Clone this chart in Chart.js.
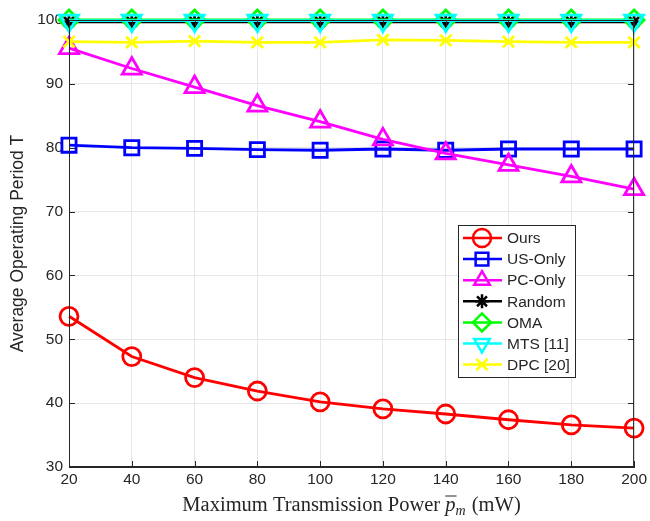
<!DOCTYPE html>
<html>
<head>
<meta charset="utf-8">
<script src="https://cdn.jsdelivr.net/npm/chart.js@4.4.1/dist/chart.umd.min.js"></script>
<style>
  html, body { margin: 0; padding: 0; background: #fff; }
  #wrap { width: 650px; height: 521px; position: relative; }
</style>
</head>
<body>
<div id="wrap"><canvas id="chart"></canvas></div>
<script>
// x axis: maximum transmission power (mW)
const powers = [20, 40, 60, 80, 100, 120, 140, 160, 180, 200];

const ours    = [53.6, 47.3, 44.0, 41.9, 40.2, 39.1, 38.3, 37.4, 36.6, 36.1];
const usOnly  = [80.4, 80.0, 79.9, 79.7, 79.6, 79.8, 79.6, 79.8, 79.8, 79.8];
const pcOnly  = [95.6, 92.4, 89.5, 86.6, 84.1, 81.3, 79.1, 77.3, 75.5, 73.5];
const random  = [99.7, 99.7, 99.7, 99.7, 99.7, 99.7, 99.7, 99.7, 99.7, 99.7];
const oma     = [100.0, 100.0, 100.0, 100.0, 100.0, 100.0, 100.0, 100.0, 100.0, 100.0];
const mts     = [99.9, 99.9, 99.9, 99.9, 99.9, 99.9, 99.9, 99.9, 99.9, 99.9];
const dpc     = [96.6, 96.5, 96.7, 96.5, 96.5, 96.9, 96.8, 96.6, 96.5, 96.5];

const yTicks = [30, 40, 50, 60, 70, 80, 90, 100];

const series = [
  { label: "Ours",      data: ours,   color: "#ff0000", style: "circle",   radius: 9,  rot: 0 },
  { label: "US-Only",   data: usOnly, color: "#0000ff", style: "rect",     radius: 10, rot: 0 },
  { label: "PC-Only",   data: pcOnly, color: "#ff00ff", style: "triangle", radius: 11, rot: 0 },
  { label: "Random",    data: random, color: "#000000", style: "star",     radius: 7,  rot: 0 },
  { label: "OMA",       data: oma,    color: "#00ff00", style: "rectRot",  radius: 10, rot: 0 },
  { label: "MTS [11]",  data: mts,    color: "#00ffff", style: "triangle", radius: 11, rot: 180 },
  { label: "DPC [20]",  data: dpc,    color: "#ffff00", style: "crossRot", radius: 8,  rot: 0 }
];

const axisColor = "#262626";
const sansFont = "'Liberation Sans', Arial, sans-serif";
const serifFont = "'Liberation Serif', 'Times New Roman', serif";

// full box + inward ticks, like MATLAB axes
const boxPlugin = {
  id: "box",
  afterDraw(chart) {
    const ctx = chart.ctx;
    const a = chart.chartArea;
    const xs = chart.scales.x, ys = chart.scales.y;
    ctx.save();
    ctx.strokeStyle = axisColor;
    ctx.lineWidth = 1;
    ctx.strokeRect(a.left + 0.5, a.top + 0.5, a.right - a.left - 1, a.bottom - a.top - 1);
    ctx.beginPath();
    powers.forEach(p => {
      const x = Math.round(xs.getPixelForValue(p)) + 0.5;
      ctx.moveTo(x, a.bottom); ctx.lineTo(x, a.bottom - 6);
      ctx.moveTo(x, a.top); ctx.lineTo(x, a.top + 6);
    });
    yTicks.forEach(v => {
      const y = Math.round(ys.getPixelForValue(v)) + 0.5;
      ctx.moveTo(a.left, y); ctx.lineTo(a.left + 6, y);
      ctx.moveTo(a.right, y); ctx.lineTo(a.right - 6, y);
    });
    ctx.stroke();
    ctx.restore();
  }
};

// legend box inside the plot, drawn on top
const legendPlugin = {
  id: "insideLegend",
  afterDraw(chart) {
    const ctx = chart.ctx;
    const left = 458, top = 225, w = 117, h = 152;
    ctx.save();
    ctx.fillStyle = "#fff";
    ctx.fillRect(left, top, w, h);
    ctx.strokeStyle = axisColor;
    ctx.lineWidth = 1;
    ctx.strokeRect(left + 0.5, top + 0.5, w, h);
    ctx.textBaseline = "middle";
    series.forEach((s, i) => {
      const y = top + 13 + i * 21.1;
      ctx.strokeStyle = s.color;
      ctx.lineWidth = 2.5;
      ctx.beginPath();
      ctx.moveTo(463, y); ctx.lineTo(502, y);
      ctx.stroke();
      ctx.fillStyle = "rgba(0,0,0,0)";
      Chart.helpers.drawPoint(ctx, {
        pointStyle: s.style, radius: Math.min(s.radius, 9), rotation: s.rot, borderWidth: 2.5
      }, 482, y);
      ctx.fillStyle = axisColor;
      ctx.font = "15.5px " + sansFont;
      ctx.fillText(s.label, 507, y + 1);
    });
    ctx.restore();
  }
};

// x title with overlined italic p and subscript m
const xTitlePlugin = {
  id: "xTitle",
  afterDraw(chart) {
    const ctx = chart.ctx;
    ctx.save();
    ctx.fillStyle = axisColor;
    ctx.textBaseline = "alphabetic";
    const base = 511;
    const big = 20.5, small = 14;
    const part1 = "Maximum Transmission Power ";
    const part3 = " (mW)";
    ctx.font = big + "px " + serifFont;
    const w1 = ctx.measureText(part1).width;
    const w3 = ctx.measureText(part3).width;
    ctx.font = "italic " + big + "px " + serifFont;
    const wp = ctx.measureText("p").width;
    ctx.font = "italic " + small + "px " + serifFont;
    const wm = ctx.measureText("m").width;
    const total = w1 + wp + wm + 1 + w3;
    let x = (chart.chartArea.left + chart.chartArea.right) / 2 - total / 2;
    ctx.font = big + "px " + serifFont;
    ctx.fillText(part1, x, base);
    x += w1;
    ctx.font = "italic " + big + "px " + serifFont;
    ctx.fillText("p", x, base);
    ctx.strokeStyle = axisColor;
    ctx.lineWidth = 1;
    ctx.beginPath();
    ctx.moveTo(x, base - 15); ctx.lineTo(x + wp + 1, base - 15);
    ctx.stroke();
    x += wp;
    ctx.font = "italic " + small + "px " + serifFont;
    ctx.fillText("m", x, base + 3.5);
    x += wm + 1;
    ctx.font = big + "px " + serifFont;
    ctx.fillText(part3, x, base);
    ctx.restore();
  }
};

const datasets = series.map((s, i) => ({
  label: s.label,
  data: s.data,
  borderColor: s.color,
  backgroundColor: "transparent",
  borderWidth: 2.8,
  pointStyle: s.style,
  pointRadius: s.radius,
  pointRotation: s.rot,
  pointBorderWidth: 2.8,
  pointBorderColor: s.color,
  pointBackgroundColor: "transparent",
  tension: 0,
  clip: false,
  order: series.length - i
}));

new Chart(document.getElementById("chart").getContext("2d"), {
  type: "line",
  data: { labels: powers, datasets: datasets },
  options: {
    responsive: true,
    maintainAspectRatio: false,
    animation: false,
    layout: { padding: { left: 8, right: 0, top: 20, bottom: 0 } },
    plugins: {
      legend: { display: false },
      tooltip: { enabled: false }
    },
    scales: {
      x: {
        type: "linear",
        min: 20,
        max: 200,
        afterFit: s => { s.height = 54; },
        afterBuildTicks: s => { s.ticks = powers.map(v => ({ value: v })); },
        grid: { color: "#e6e6e6", drawTicks: false },
        border: { color: axisColor },
        ticks: { color: axisColor, font: { size: 15.5, family: sansFont }, padding: 3, maxRotation: 0 }
      },
      y: {
        min: 30,
        max: 100,
        afterFit: s => { s.width = 61; },
        afterBuildTicks: s => { s.ticks = yTicks.map(v => ({ value: v })); },
        grid: { color: "#e6e6e6", drawTicks: false },
        border: { color: axisColor },
        ticks: { color: axisColor, font: { size: 15.5, family: sansFont }, padding: 6 },
        title: {
          display: true,
          text: "Average Operating Period T",
          color: axisColor,
          font: { size: 17.5, family: sansFont },
          padding: { top: 0, bottom: 4 }
        }
      }
    }
  },
  plugins: [boxPlugin, legendPlugin, xTitlePlugin]
});
</script>
</body>
</html>
